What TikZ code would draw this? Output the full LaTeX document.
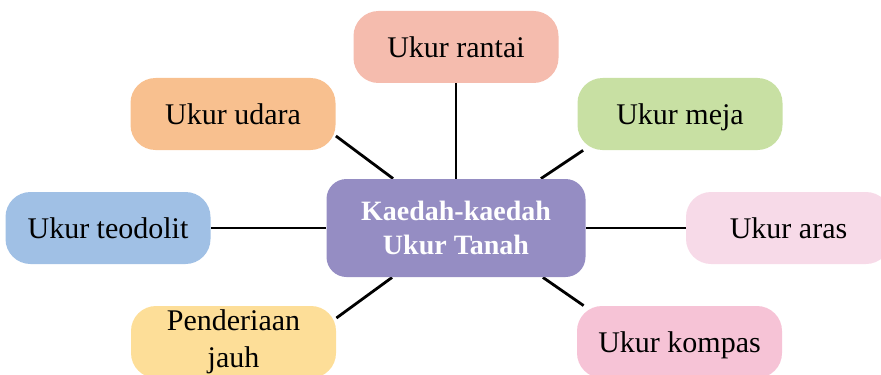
\documentclass[tikz,border=0pt]{standalone}
\usepackage{fontspec}
\setmainfont{Liberation Serif}
\usetikzlibrary{positioning,calc,backgrounds}
\usepackage{xcolor}
\definecolor{rantaired}{RGB}{245,188,174}
\definecolor{udaraorange}{RGB}{248,192,143}
\definecolor{mejagreen}{RGB}{200,224,163}
\definecolor{teodolitblue}{RGB}{160,192,229}
\definecolor{kaedahpurple}{RGB}{149,141,195}
\definecolor{araspink}{RGB}{247,218,232}
\definecolor{jauhyellow}{RGB}{253,222,152}
\definecolor{kompaspink}{RGB}{246,195,214}

\tikzset{
    method/.style={rounded corners=12.5pt, minimum width=102.5pt, minimum height=36pt,
        inner sep=0pt, text height=10.5pt, text depth=0pt, font=\fontsize{15}{18.5}\selectfont},
    hub/.style={rounded corners=10pt, minimum width=129.5pt, minimum height=49pt,
        inner sep=0pt, fill=kaedahpurple, text=white, align=center,
        font=\fontsize{14}{17}\selectfont\bfseries},
    link/.style={line width=1.4pt}
}

\begin{document}
\begin{tikzpicture}[x=0.5pt,y=-0.5pt]
        \useasboundingbox (0,0) rectangle (881,374);
        \clip (0,0) rectangle (881,374);

        % centre
        \node[hub] (kaedah) at (456,228) {Kaedah-kaedah\\Ukur Tanah};

        % methods round the centre
        \node[method, fill=rantaired] (rantai) at (456,47) {Ukur rantai};
        \node[method, fill=udaraorange] (udara) at (233,114) {Ukur udara};
        \node[method, fill=mejagreen] (meja) at (680,114) {Ukur meja};
        \node[method, fill=teodolitblue] (teodolit) at (108,228) {Ukur teodolit};
        \node[method, fill=araspink] (aras) at (788.5,228) {Ukur aras};
        \node[method, fill=jauhyellow, text height={}, text depth={}, align=center] (penderiaan) at (233.5,342) {Penderiaan\\jauh};
        \node[method, fill=kompaspink] (kompas) at (679.5,342) {Ukur kompas};

        \begin{scope}[on background layer]
            \draw[link] (kaedah.north) -- (rantai.south);
            \draw[link] ($(udara.east)+(0,22)$) -- ($(kaedah.north west)+(67,0)$);
            \draw[link] ($(meja.south west)+(6,0)$) -- ($(kaedah.north east)+(-45,0)$);
            \draw[link] (teodolit.east) -- (kaedah.west);
            \draw[link] (kaedah.east) -- (aras.west);
            \draw[link] ($(penderiaan.east)+(0,-24)$) -- ($(kaedah.south west)+(66,0)$);
            \draw[link] ($(kompas.north west)+(7,0)$) -- ($(kaedah.south east)+(-43,0)$);
        \end{scope}
    \end{tikzpicture}
\end{document}
